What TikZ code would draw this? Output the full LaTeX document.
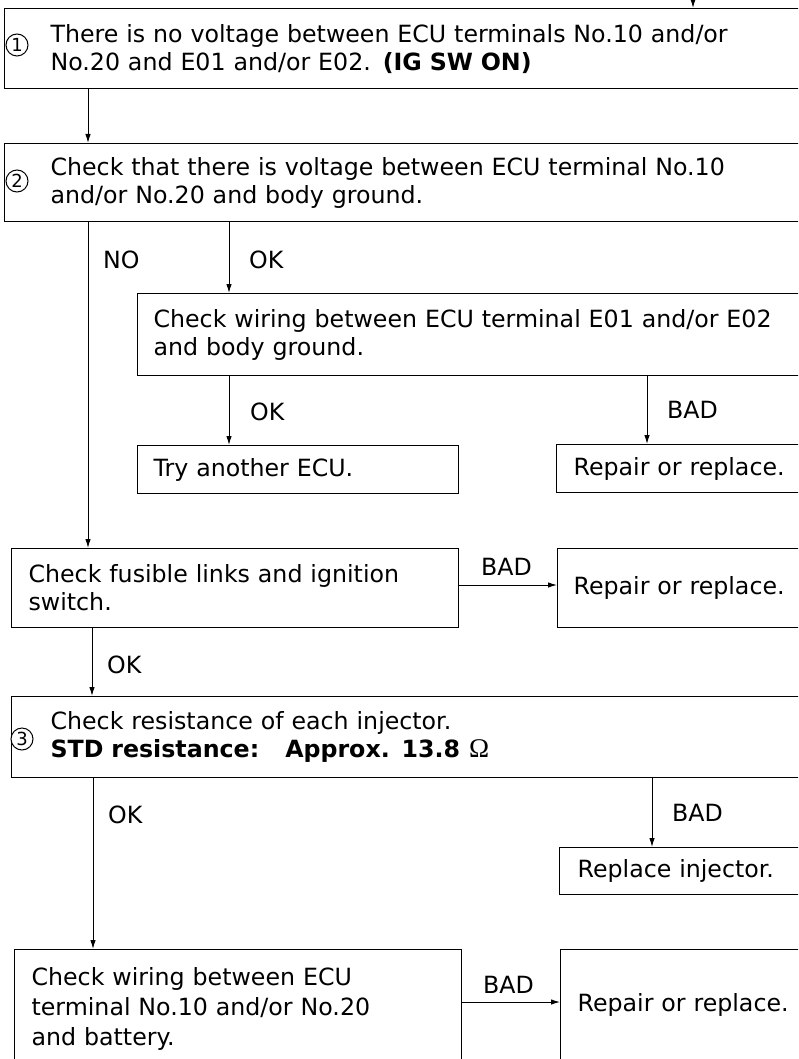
\documentclass[tikz,border=0pt]{standalone}
\usepackage{fontspec}
\setmainfont{DejaVu Sans}
\newfontfamily\omfont{Liberation Serif}
\usetikzlibrary{arrows.meta}
\newcommand\fs{\fontsize{23.7}{28}\selectfont}
\begin{document}
\begin{tikzpicture}[x=1pt,y=-1pt,
  box/.style={draw,line width=1.2pt,rectangle,anchor=north west,align=left,inner ysep=0pt,font=\fs},
  lbl/.style={anchor=west,inner sep=0pt,font=\fs},
  num/.style={draw,circle,line width=1pt,minimum size=22pt,inner sep=0pt,fill=white,
    font=\fontsize{18}{18}\selectfont},
  arr/.style={-{Latex[length=9pt,width=5.5pt]},line width=1pt}]
\useasboundingbox (0,0) rectangle (798,1059);
\clip (0,0) rectangle (798,1059);
% boxes
\node[box,minimum width=806,minimum height=80,inner xsep=46,text width=714] (b1) at (4,8)
  {There is no voltage between ECU terminals No.10 and/or\\No.20 and E01 and/or E02. \textbf{(IG SW ON)}};
\node[num] (n1) at (17,45) {1};
\node[box,minimum width=806,minimum height=78,inner xsep=46,text width=714] (b2) at (4,143)
  {Check that there is voltage between ECU terminal No.10\\and/or No.20 and body ground.};
\node[num] (n2) at (17,181) {2};
\node[box,minimum width=673,minimum height=82,inner xsep=16,text width=641] (b3) at (137,293)
  {Check wiring between ECU terminal E01 and/or E02\\and body ground.};
\node[box,minimum width=321,minimum height=48,inner xsep=16,text width=289] (try) at (137,445)
  {Try another ECU.};
\node[box,minimum width=254,minimum height=48,inner xsep=17,text width=220] (rep1) at (556,444)
  {Repair or replace.};
\node[box,minimum width=447,minimum height=79,inner xsep=17,text width=413] (fus) at (11,548)
  {Check fusible links and ignition\\switch.};
\node[box,minimum width=253,minimum height=79,inner xsep=16,text width=221] (rep2) at (557,548)
  {Repair or replace.};
\node[box,minimum width=799,minimum height=81,inner xsep=39,text width=721] (b4) at (11,696)
  {Check resistance of each injector.\\\textbf{STD resistance:\hspace{26pt}Approx. 13.8}\hspace{9pt}{\omfont\fontsize{27}{28}\selectfont Ω}};
\node[num] (n3) at (22,739) {3};
\node[box,minimum width=251,minimum height=47,inner xsep=18,text width=215] (inj) at (559,847)
  {Replace injector.};
\node[box,minimum width=447,minimum height=118,inner xsep=17,text width=413,
  font=\fontsize{23.7}{30}\selectfont] (bot) at (14,949)
  {Check wiring between ECU\\terminal No.10 and/or No.20\\and battery.};
\node[box,minimum width=250,minimum height=110,inner xsep=17,text width=216] (rep3) at (560,949)
  {Repair or replace.};
% connector columns
\coordinate (xa) at (88,0);
\coordinate (xb) at (229,0);
\coordinate (xc) at (647,0);
\coordinate (xd) at (92,0);
\coordinate (xe) at (652,0);
\coordinate (xf) at (93,0);
\coordinate (xt) at (693,-20);
\coordinate (yf) at (0,585);
\coordinate (yg) at (0,1002);
% connectors
\draw[arr] (xt) -- (b1.north -| xt);
\draw[arr] (b1.south -| xa) -- (b2.north -| xa);
\draw[arr] (b2.south -| xa) -- (fus.north -| xa);
\draw[arr] (b2.south -| xb) -- (b3.north -| xb);
\draw[arr] (b3.south -| xb) -- (try.north -| xb);
\draw[arr] (b3.south -| xc) -- (rep1.north -| xc);
\draw[arr] (fus.east |- yf) -- (rep2.west |- yf);
\draw[arr] (fus.south -| xd) -- (b4.north -| xd);
\draw[arr] (b4.south -| xe) -- (inj.north -| xe);
\draw[arr] (b4.south -| xf) -- (bot.north -| xf);
\draw[arr] (bot.east |- yg) -- (rep3.west |- yg);
% labels
\node[lbl] (lno) at (103,260) {NO};
\node[lbl] (lok1) at (249,260) {OK};
\node[lbl] (lok2) at (250,412) {OK};
\node[lbl] (lbad1) at (667,410) {BAD};
\node[lbl] (lbad2) at (481,567) {BAD};
\node[lbl] (lok3) at (107,665) {OK};
\node[lbl] (lok4) at (108,815) {OK};
\node[lbl] (lbad3) at (672,813) {BAD};
\node[lbl] (lbad4) at (483,985) {BAD};
\end{tikzpicture}
\end{document}
